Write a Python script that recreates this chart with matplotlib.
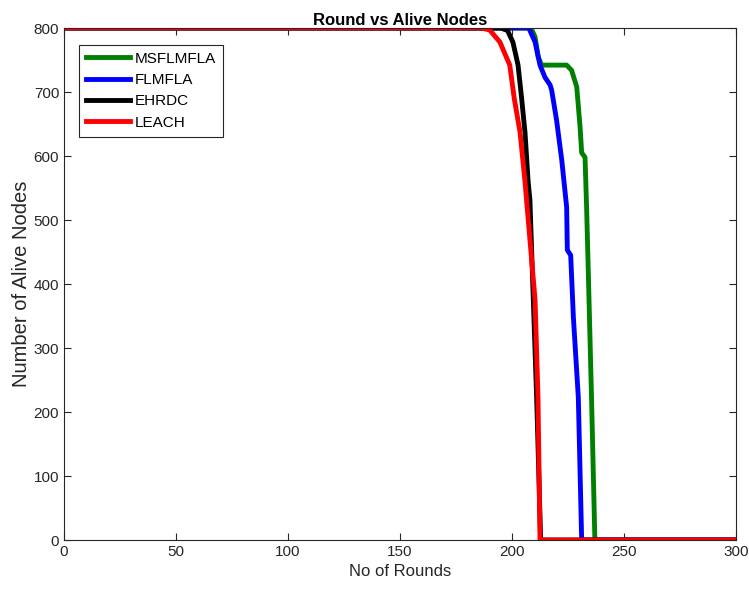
import matplotlib.pyplot as plt

plt.rcParams['font.family'] = ['Liberation Sans', 'DejaVu Sans']

# Breakpoints (round, alive nodes)
msflmfla_rounds = [0, 208.5, 210.3, 211.7, 213.2, 224.4, 226.6, 228.9, 230.4, 231.1, 232.6, 233.3, 234, 235.5, 237, 300]
msflmfla_nodes = [800, 800, 786, 755, 742, 742, 734, 708, 645, 605, 598, 520, 427, 223, 0, 0]

flmfla_rounds = [0, 207.5, 210.3, 212.5, 214.7, 217, 217.7, 219.9, 222.2, 224.4, 224.7, 226.2, 227.4, 229.6, 231.1, 300]
flmfla_nodes = [800, 800, 778, 742, 723, 711, 703, 656, 594, 520, 453, 445, 348, 223, 0, 0]

ehrdc_rounds = [0, 195, 198, 200.4, 202.7, 204.3, 205.8, 207.2, 208, 211, 212.8, 300]
ehrdc_nodes = [800, 800, 796, 778, 742, 690, 637, 560, 531, 223, 0, 0]

leach_rounds = [0, 186, 190, 194.6, 199, 201, 203.6, 205.8, 206.5, 210.3, 211.6, 212.5, 300]
leach_nodes = [800, 800, 797, 778, 742, 690, 637, 560, 531, 375, 223, 0, 0]

fig = plt.figure(figsize=(7.49, 6), dpi=100)
ax = fig.add_axes([64 / 749, 60 / 600, 672 / 749, 512 / 600])

ax.plot(msflmfla_rounds, msflmfla_nodes, color='#008000', lw=3.5, label='MSFLMFLA')
ax.plot(flmfla_rounds, flmfla_nodes, color='#0000ff', lw=3.5, label='FLMFLA')
ax.plot(ehrdc_rounds, ehrdc_nodes, color='black', lw=3.5, label='EHRDC')
ax.plot(leach_rounds, leach_nodes, color='#ff0000', lw=3.5, label='LEACH')

ax.set_xlim(0, 300)
ax.set_ylim(0, 800)
ax.set_xticks(range(0, 301, 50))
ax.set_yticks(range(0, 801, 100))
ax.tick_params(direction='in', top=True, right=True, labelsize=11, colors='#262626', length=5)
for s in ax.spines.values():
    s.set_color('#262626')
    s.set_linewidth(0.8)

ax.set_title('Round vs Alive Nodes', fontsize=12, fontweight='bold', pad=2)
ax.set_xlabel('No of Rounds', fontsize=12, color='#262626', labelpad=4)
ax.set_ylabel('Number of Alive Nodes', fontsize=14.5, color='#262626', labelpad=2)

leg = ax.legend(loc='upper left', bbox_to_anchor=(0.022, 0.967), borderaxespad=0,
                fontsize=11, fancybox=False, edgecolor='#262626', framealpha=1,
                handlelength=2.9, borderpad=0.45, labelspacing=0.48, handletextpad=0.3)
leg.get_frame().set_linewidth(0.8)

fig.savefig('out.png', dpi=100)
